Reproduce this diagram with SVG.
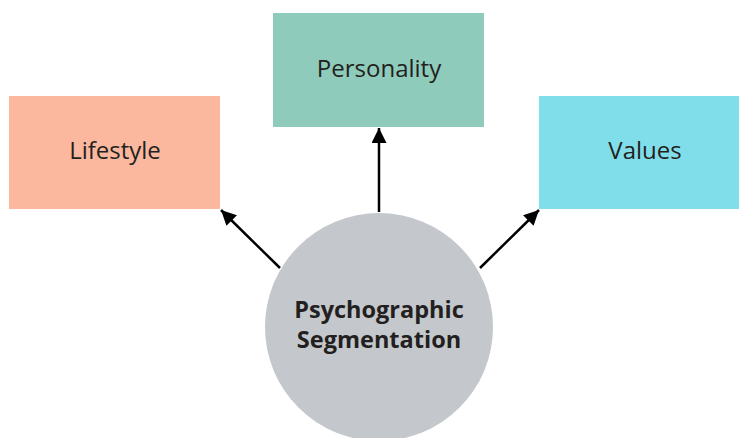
<svg xmlns="http://www.w3.org/2000/svg" width="739" height="438" viewBox="0 0 739 438">
<defs>
<style>
.lbl{font-family:"Open Sans","Noto Sans","Liberation Sans",sans-serif;font-size:24px;fill:#231f20;text-anchor:middle}
.bold{font-family:"Open Sans","Noto Sans","Liberation Sans",sans-serif;font-size:23.5px;font-weight:bold;fill:#231f20;text-anchor:middle}
.conn{stroke:#000;stroke-width:2.5;fill:none;marker-end:url(#ah)}
</style>
<marker id="ah" viewBox="0 0 10 10" refX="10" refY="5" markerWidth="8" markerHeight="6" markerUnits="strokeWidth" orient="auto">
<path d="M0,0 L10,5 L0,10 z" fill="#000"/>
</marker>
</defs>
<rect width="739" height="438" fill="#fff"/>
<g id="connectors">
<line class="conn" x1="280" y1="268" x2="221" y2="210"/>
<line class="conn" x1="379" y1="212" x2="379" y2="128"/>
<line class="conn" x1="480" y1="268" x2="539" y2="210"/>
</g>
<g id="lifestyle">
<rect x="9" y="96" width="211" height="113" fill="#fbb89f"/>
<text class="lbl" x="115" y="159">Lifestyle</text>
</g>
<g id="personality">
<rect x="273" y="13" width="211" height="114" fill="#8fcbbb"/>
<text class="lbl" x="379" y="77">Personality</text>
</g>
<g id="values">
<rect x="539" y="96" width="211" height="113" fill="#80deea"/>
<text class="lbl" x="645" y="159">Values</text>
</g>
<g id="psychographic">
<circle cx="379" cy="327" r="114" fill="#c4c8cc"/>
<text class="bold" x="379" y="318">Psychographic</text>
<text class="bold" x="379" y="348">Segmentation</text>
</g>
</svg>
